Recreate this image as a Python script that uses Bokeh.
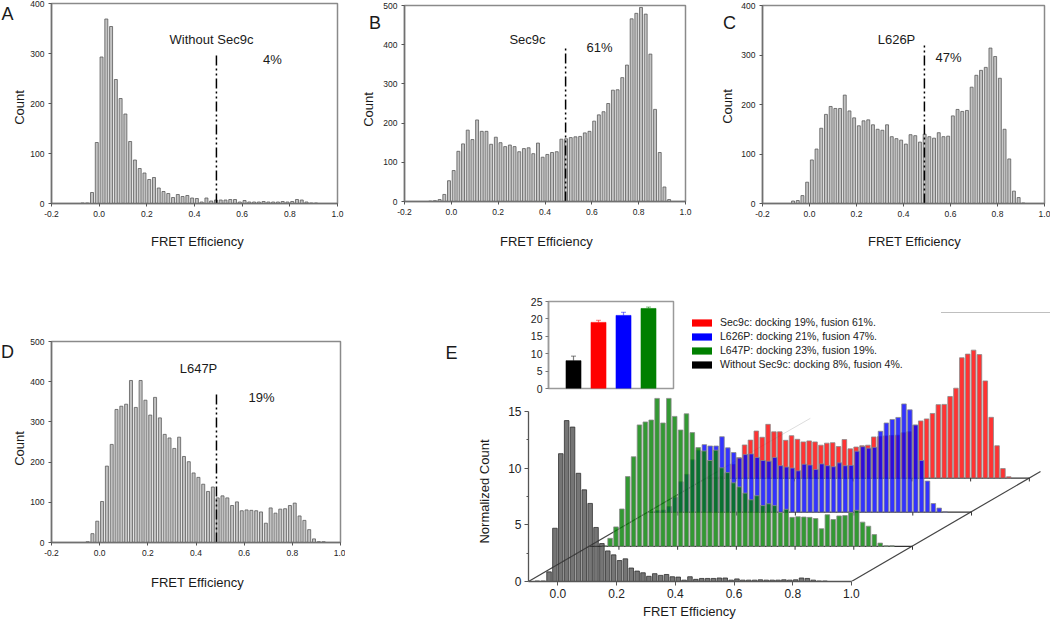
import math
from bokeh.plotting import figure
from bokeh.models import Range1d, Label, Legend, LegendItem, Column, Whisker, ColumnDataSource, PrintfTickFormatter, FixedTicker
from bokeh.embed import file_html
from bokeh.resources import INLINE

FONT = "Liberation Sans"

centers_a = [-0.07,-0.05,-0.03,-0.01,0.01,0.03,0.05,0.07,0.09,0.11,0.13,0.15,0.17,0.19,0.21,0.23,0.25,0.27,0.29,0.31,0.33,0.35,0.37,0.39,0.41,0.43,0.45,0.47,0.49,0.51,0.53,0.55,0.57,0.59,0.61,0.63,0.65,0.67,0.69,0.71,0.73,0.75,0.77,0.79,0.81,0.83,0.85,0.87,0.89,0.91]
counts_a = [1,1,22,122,293,369,354,248,210,179,124,87,70,61,48,52,31,24,20,12,18,14,16,11,10,3,11,5,7,7,7,8,8,3,6,3,3,3,4,3,3,3,4,3,4,8,7,3,1,1]
centers_b = [-0.09,-0.07,-0.05,-0.03,-0.01,0.01,0.03,0.05,0.07,0.09,0.11,0.13,0.15,0.17,0.19,0.21,0.23,0.25,0.27,0.29,0.31,0.33,0.35,0.37,0.39,0.41,0.43,0.45,0.47,0.49,0.51,0.53,0.55,0.57,0.59,0.61,0.63,0.65,0.67,0.69,0.71,0.73,0.75,0.77,0.79,0.81,0.83,0.85,0.87,0.89,0.91,0.93]
counts_b = [1,2,5,18,53,79,128,147,182,158,208,179,179,146,164,150,140,144,140,127,135,137,122,149,113,120,125,127,159,160,163,165,166,175,179,205,221,229,250,284,285,316,348,466,480,495,478,376,235,125,37,5]
centers_c = [-0.07,-0.05,-0.03,-0.01,0.01,0.03,0.05,0.07,0.09,0.11,0.13,0.15,0.17,0.19,0.21,0.23,0.25,0.27,0.29,0.31,0.33,0.35,0.37,0.39,0.41,0.43,0.45,0.47,0.49,0.51,0.53,0.55,0.57,0.59,0.61,0.63,0.65,0.67,0.69,0.71,0.73,0.75,0.77,0.79,0.81,0.83,0.85,0.87,0.89,0.91]
counts_c = [5,6,16,43,88,110,152,180,196,192,192,219,187,173,157,167,169,159,150,148,159,135,131,128,120,139,137,124,140,135,132,143,135,136,177,190,186,188,235,259,269,275,314,297,253,150,90,25,12,1]
centers_d = [-0.05,-0.03,-0.01,0.01,0.03,0.05,0.07,0.09,0.11,0.13,0.15,0.17,0.19,0.21,0.23,0.25,0.27,0.29,0.31,0.33,0.35,0.37,0.39,0.41,0.43,0.45,0.47,0.49,0.51,0.53,0.55,0.57,0.59,0.61,0.63,0.65,0.67,0.69,0.71,0.73,0.75,0.77,0.79,0.81,0.83,0.85,0.87,0.89,0.91,0.93]
counts_d = [2,22,53,102,190,244,331,339,344,403,336,403,354,317,361,310,269,260,234,262,214,201,173,162,145,127,138,111,116,111,92,101,79,81,80,79,76,48,86,73,83,84,92,98,66,55,32,9,2,2]

norm_gray = [0.04,0.04,0.85,4.7,11.28,14.2,13.63,9.55,8.09,6.89,4.77,3.35,2.7,2.35,1.85,2.0,1.19,0.92,0.77,0.46,0.69,0.54,0.62,0.42,0.39,0.12,0.42,0.19,0.27,0.27,0.27,0.31,0.31,0.12,0.23,0.12,0.12,0.12,0.15,0.12,0.12,0.12,0.15,0.12,0.15,0.31,0.27,0.12,0.04,0.04]
norm_green = [0.06,0.71,1.72,3.3,6.16,7.91,10.72,10.98,11.15,13.06,10.89,13.06,11.47,10.27,11.7,10.04,8.72,8.42,7.58,8.49,6.93,6.51,5.61,5.25,4.7,4.11,4.47,3.6,3.76,3.6,2.98,3.27,2.56,2.62,2.59,2.56,2.46,1.56,2.79,2.37,2.69,2.72,2.98,3.18,2.14,1.78,1.04,0.29,0.06,0.06]
norm_blue = [0.15,0.18,0.49,1.31,2.68,3.34,4.62,5.47,5.96,5.84,5.84,6.66,5.68,5.26,4.77,5.08,5.14,4.83,4.56,4.5,4.83,4.1,3.98,3.89,3.65,4.23,4.16,3.77,4.26,4.1,4.01,4.35,4.1,4.13,5.38,5.78,5.65,5.72,7.14,7.87,8.18,8.36,9.55,9.03,7.69,4.56,2.74,0.76,0.36,0.03]
norm_red = [0.02,0.05,0.11,0.41,1.21,1.8,2.92,3.35,4.15,3.6,4.74,4.08,4.08,3.33,3.74,3.42,3.19,3.28,3.19,2.9,3.08,3.12,2.78,3.4,2.58,2.74,2.85,2.9,3.63,3.65,3.72,3.76,3.78,3.99,4.08,4.67,5.04,5.22,5.7,6.48,6.5,7.2,7.93,10.62,10.94,11.29,10.9,8.57,5.36,2.85,0.84,0.11]

docking_values = [8, 19, 21, 23]
docking_errors = [1.3, 0.6, 0.9, 0.4]
docking_labels = ["Without Sec9c: docking 8%, fusion 4%.", "Sec9c: docking 19%, fusion 61%.",
                  "L626P: docking 21%, fusion 47%.", "L647P: docking 23%, fusion 19%."]
docking_colors = ["#000000", "#ff0000", "#0000ff", "#008000"]
x_ticks = [-0.2, 0.0, 0.2, 0.4, 0.6, 0.8, 1.0]
e_ticks = [0.0, 0.2, 0.4, 0.6, 0.8, 1.0]


def place(x, y):
    return {"position": "absolute", "left": f"{x}px", "top": f"{y}px"}


def txt(p, x, y, s, size="13px", angle=0):
    p.add_layout(Label(x=x, y=y, text=s, text_font=FONT, text_font_size=size, text_align="center",
                       text_baseline="middle", text_color="#1a1a1a", angle=angle))


def panel(box, frame, ymax, yticks, xs, ys, line_x, line_top, name, name_xy, pct, pct_xy):
    bx, by, bw, bh = box
    l, r, t, b = frame
    p = figure(width=bw, height=bh, output_backend="svg", toolbar_location=None, frame_align=False,
               x_range=Range1d(-0.2, 1.0), y_range=Range1d(0, ymax),
               min_border_left=l - bx, min_border_right=bx + bw - r,
               min_border_top=t - by, min_border_bottom=by + bh - b,
               background_fill_alpha=0, border_fill_alpha=0, styles=place(bx, by))
    p.grid.visible = False
    p.outline_line_color = "#8a8a8a"
    p.outline_line_width = 1.5
    for ax in (p.xaxis[0], p.yaxis[0]):
        ax.axis_line_color = "#707070"
        ax.axis_line_width = 1.5
        ax.major_tick_line_color = "#555555"
        ax.major_tick_out = 3
        ax.major_tick_in = 0
        ax.minor_tick_line_color = None
        ax.major_label_text_font = FONT
        ax.major_label_text_font_size = "8.5px"
        ax.major_label_text_color = "#222222"
        ax.major_label_standoff = 4
    p.xaxis.ticker = x_ticks
    p.xaxis.formatter = PrintfTickFormatter(format="%.1f")
    p.yaxis.ticker = yticks
    p.vbar(x=xs, top=ys, bottom=0, width=0.0125, fill_color="#c2c2c2", line_color="#5a5a5a", line_width=0.8)
    p.line(x=[line_x, line_x], y=[0, line_top], line_color="#000000", line_width=1.5, line_dash="10 3 2 3 2 3")
    sx = lambda px: -0.2 + (px - l) / (r - l) * 1.2
    sy = lambda py: (b - py) / (b - t) * ymax
    txt(p, sx(name_xy[0]), sy(name_xy[1]), name)
    txt(p, sx(pct_xy[0]), sy(pct_xy[1]), pct)
    return p


a = panel((0, 0, 345, 225), (51, 337, 3, 203), 400, [0, 100, 200, 300, 400], centers_a, counts_a, 0.492, 302,
          "Without Sec9c", (211, 39), "4%", (272, 59))
b = panel((370, 0, 330, 225), (404, 685, 5, 201), 500, [0, 100, 200, 300, 400, 500], centers_b, counts_b, 0.488, 398,
          "Sec9c", (527, 39), "61%", (599, 47))
c = panel((725, 0, 325, 225), (762, 1044, 5, 203), 400, [0, 100, 200, 300, 400], centers_c, counts_c, 0.489, 319,
          "L626P", (896, 39), "47%", (948, 57))
d = panel((0, 335, 345, 230), (51, 340, 341, 542), 500, [0, 100, 200, 300, 400, 500], centers_d, counts_d, 0.485, 375,
          "L647P", (198, 368), "19%", (261, 397))

# ---- inset bars
ins = figure(width=180, height=108, output_backend="svg", toolbar_location=None, frame_align=False,
             x_range=Range1d(0, 5), y_range=Range1d(0, 25),
             min_border_left=43, min_border_right=12, min_border_top=11, min_border_bottom=10,
             background_fill_alpha=0, border_fill_alpha=0, styles=place(505, 290))
ins.grid.visible = False
ins.outline_line_color = "#9a9a9a"
ins.outline_line_width = 1.5
ins.xaxis.visible = False
ins.yaxis.ticker = [0, 5, 10, 15, 20, 25]
ins.yaxis.axis_line_color = "#9a9a9a"
ins.yaxis.axis_line_width = 1.5
ins.yaxis.major_tick_line_color = "#777777"
ins.yaxis.major_tick_out = 3
ins.yaxis.major_tick_in = 0
ins.yaxis.minor_tick_line_color = None
ins.yaxis.major_label_text_font = FONT
ins.yaxis.major_label_text_font_size = "10.5px"
ins.yaxis.major_label_text_color = "#222222"
ins.yaxis.major_label_standoff = 3
for i, (val, err, col) in enumerate(zip(docking_values, docking_errors, docking_colors)):
    ins.vbar(x=[i + 1], top=[val], bottom=0, width=0.6, fill_color=col, line_color=col, line_alpha=0.6)
    src = ColumnDataSource(dict(x=[i + 1], up=[val + err], lo=[val]))
    w = Whisker(source=src, base="x", upper="up", lower="lo", line_color=col, line_alpha=0.5, line_width=1.2)
    w.upper_head.line_color = col
    w.upper_head.line_alpha = 0.5
    w.upper_head.size = 5
    w.lower_head = None
    ins.add_layout(w)

# ---- legend, on its own layer beside the inset (its zero-height bars draw nothing)
lg = figure(width=365, height=64, output_backend="svg", toolbar_location=None, frame_align=False,
            x_range=Range1d(0, 1), y_range=Range1d(0, 1),
            min_border_left=0, min_border_right=0, min_border_top=0, min_border_bottom=0,
            background_fill_alpha=0, border_fill_alpha=0, outline_line_color=None, styles=place(685, 312))
lg.axis.visible = False
lg.grid.visible = False
swatches = [lg.vbar(x=[i + 1], top=[val], bottom=[val], width=0.6, fill_color=col, line_color=None)
            for i, (val, col) in enumerate(zip(docking_values, docking_colors))]
legend_order = [1, 2, 3, 0]
lg.add_layout(Legend(items=[LegendItem(label=docking_labels[i], renderers=[swatches[i]], index=0) for i in legend_order],
                     location=(4, 6), glyph_width=25, glyph_height=9, label_height=9, label_standoff=6,
                     spacing=2, padding=0, margin=0, border_line_color=None, background_fill_alpha=0,
                     label_text_font=FONT, label_text_font_size="10.5px", label_text_color="#1a1a1a"))

# ---- pseudo-3D panel E
depth_x = [0.0, 0.208, 0.409, 0.606]
depth_y = [0.0, 3.1, 6.12, 9.13]
e = figure(width=580, height=262, output_backend="svg", toolbar_location=None, frame_align=False,
           x_range=Range1d(-0.1, 1.661), y_range=Range1d(0, 21.27),
           min_border_left=58, min_border_right=5, min_border_top=0, min_border_bottom=21,
           background_fill_alpha=0, border_fill_alpha=0, styles=place(470, 340))
e.grid.visible = False
e.outline_line_color = None
e.xaxis.bounds = (-0.1, 1.0)
e.yaxis.bounds = (0, 15)
e.xaxis.ticker = e_ticks
e.xaxis.formatter = PrintfTickFormatter(format="%.1f")
e.yaxis.ticker = FixedTicker(ticks=[0, 5, 10, 15], minor_ticks=[2.5, 7.5, 12.5])
for ax in (e.xaxis[0], e.yaxis[0]):
    ax.axis_line_color = "#555555"
    ax.axis_line_width = 1.3
    ax.major_tick_line_color = "#555555"
    ax.major_tick_out = 4
    ax.major_tick_in = 0
    ax.minor_tick_out = 2
    ax.minor_tick_in = 0
    ax.minor_tick_line_color = "#555555"
    ax.major_label_text_font = FONT
    ax.major_label_text_font_size = "12px"
    ax.major_label_text_color = "#222222"
    ax.major_label_standoff = 3

# floor lines
e.line(x=[0.544, 0.86], y=[9.71, 14.4], line_color="#dddddd", line_width=1)
e.line(x=[-0.1, 0.544], y=[0, 9.71], line_color="#444444", line_width=1.2)
e.line(x=[1.0, 1.644], y=[0, 9.71], line_color="#444444", line_width=1.2)
for dx, dy in zip(depth_x[1:], depth_y[1:]):
    e.line(x=[-0.1 + dx, 1.0 + dx], y=[dy, dy], line_color="#333333", line_width=1.2)
    e.segment(x0=[t + dx for t in e_ticks], x1=[t + dx for t in e_ticks],
              y0=[dy] * 6, y1=[dy - 0.3] * 6, line_color="#333333", line_width=1)

series = [
    (centers_b, norm_red, 3, "#ff0000", "#8a8a8a", 0.8),
    (centers_c, norm_blue, 2, "#0000ff", "#8a8a8a", 0.8),
    (centers_d, norm_green, 1, "#008000", "#8a8a8a", 0.8),
    (centers_a, norm_gray, 0, "#404040", "#303030", 0.72),
]
for xs, vs, k, col, edge, alpha in series:
    dx, dy = depth_x[k], depth_y[k]
    e.vbar(x=[v + dx for v in xs], top=[v + dy for v in vs], bottom=dy, width=0.0155,
           fill_color=col, fill_alpha=alpha, line_color=edge, line_width=0.8)

# ---- page-wide layer: panel letters and axis titles, in page pixels
page = figure(width=1050, height=624, output_backend="svg", toolbar_location=None, frame_align=False,
              x_range=Range1d(0, 1050), y_range=Range1d(624, 0),
              min_border_left=0, min_border_right=0, min_border_top=0, min_border_bottom=0,
              background_fill_alpha=0, border_fill_alpha=0, outline_line_color=None, styles=place(0, 0))
page.axis.visible = False
page.grid.visible = False
panel_letters = [("A", 7, 13), ("B", 374.5, 22), ("C", 729, 22), ("D", 7, 351.5), ("E", 451, 352)]
for s, x, y in panel_letters:
    txt(page, x, y, s, size="18px")
for x, y in [(197, 241), (546, 240.7), (914, 241), (197, 581.7), (689, 611)]:
    txt(page, x, y, "FRET Efficiency")
for x, y in [(19, 107), (368, 109), (727, 106), (19, 448)]:
    txt(page, x, y, "Count", angle=math.pi / 2)
txt(page, 484, 491, "Normalized Count", angle=math.pi / 2)

root = Column(children=[a, b, c, d, ins, lg, e, page], width=1050, height=624,
              styles=place(0, 0))
open("out.html", "w").write(file_html(root, INLINE))
